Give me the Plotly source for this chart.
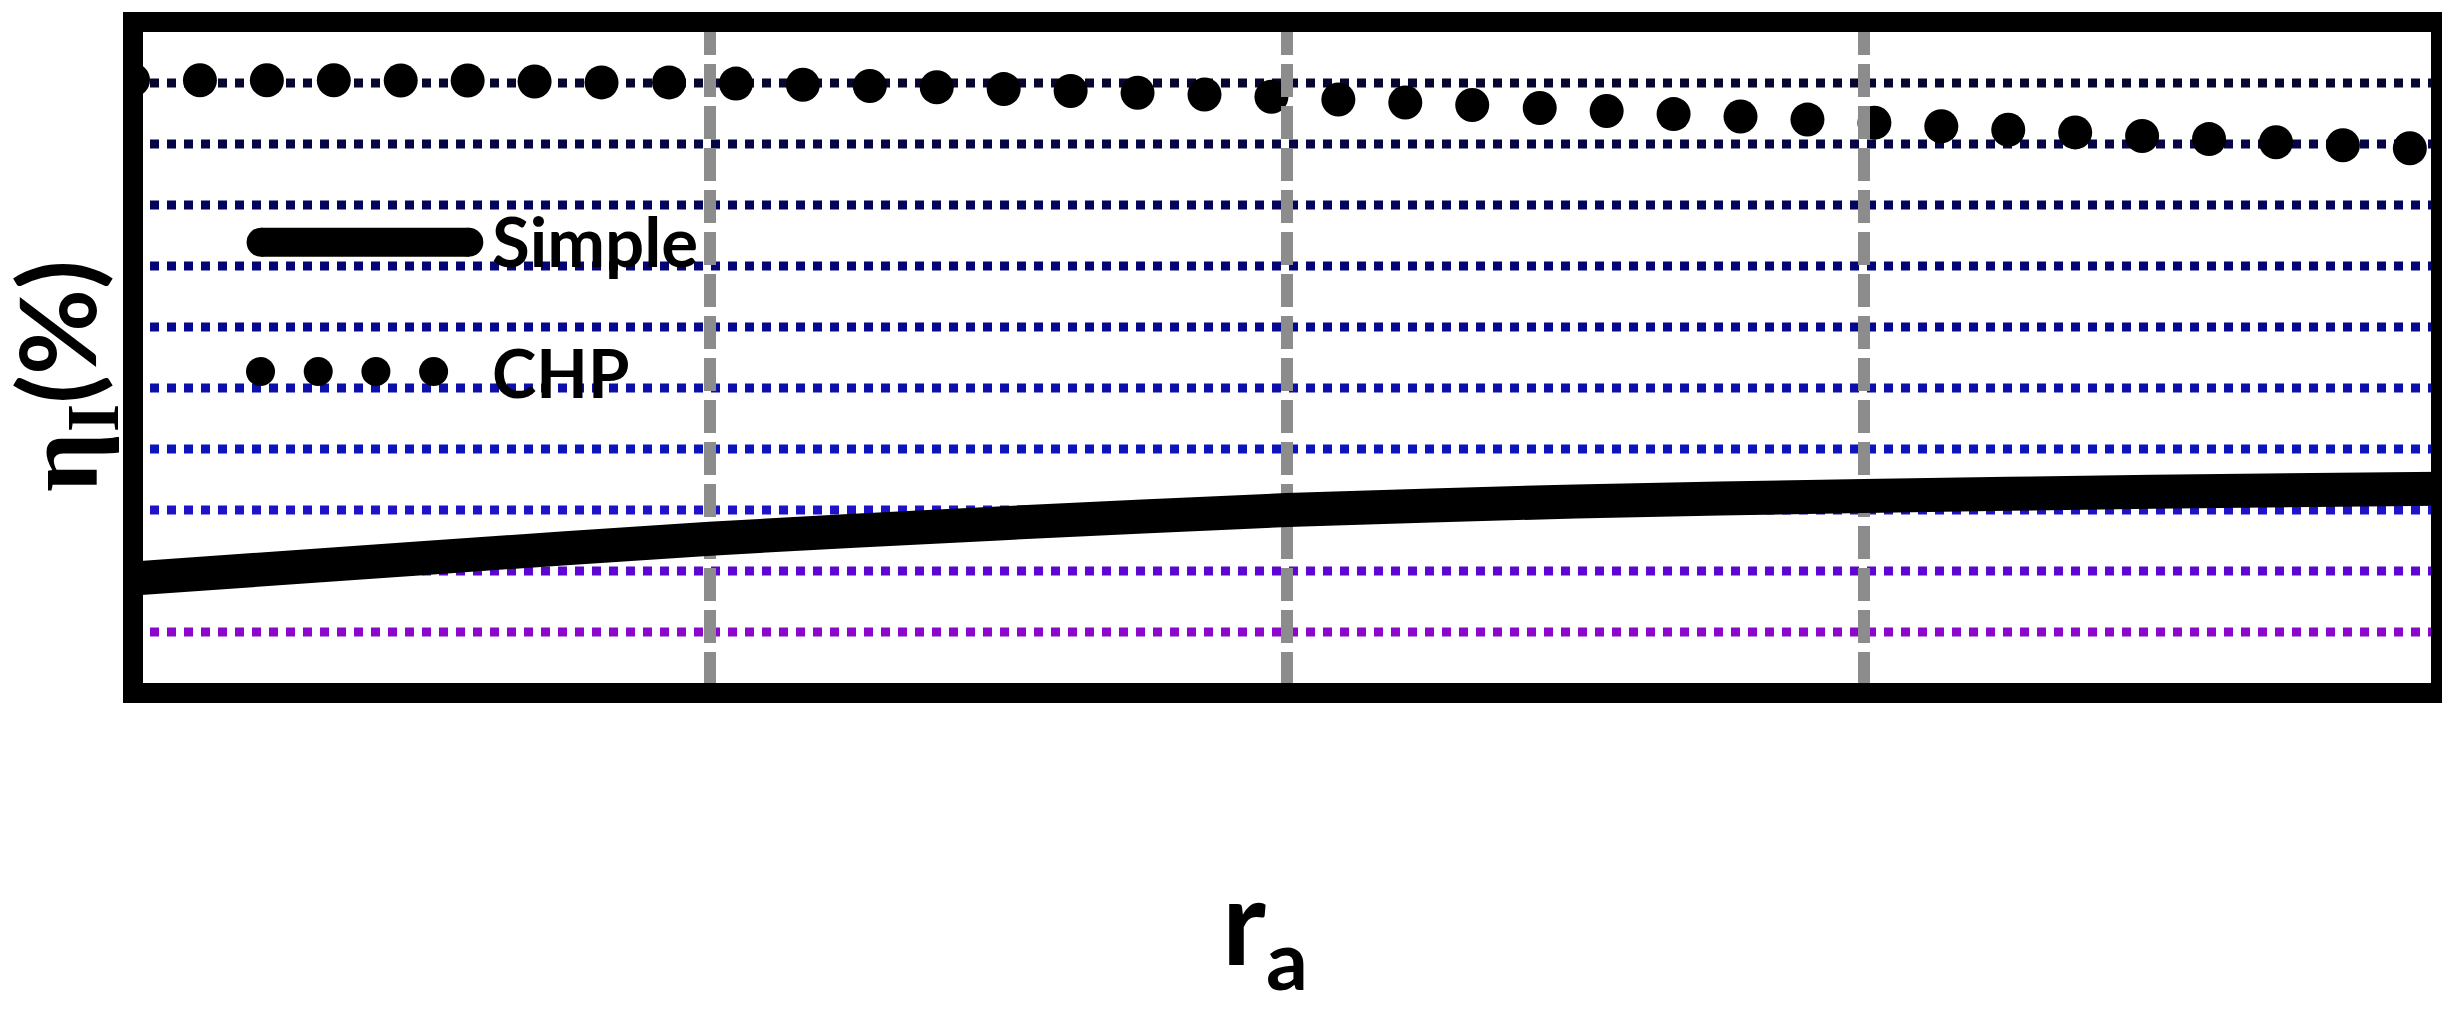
import plotly.graph_objects as go

# ---- data ----
chp_x = [0.000, 0.116, 0.232, 0.348, 0.464, 0.580, 0.696, 0.812, 0.929, 1.045,
         1.161, 1.277, 1.393, 1.509, 1.625, 1.741, 1.857, 1.973, 2.089, 2.205,
         2.321, 2.438, 2.554, 2.670, 2.786, 2.902, 3.018, 3.134, 3.250, 3.366,
         3.482, 3.598, 3.714, 3.830, 3.946]
chp_y = [10.05, 10.045, 10.045, 10.045, 10.04, 10.04, 10.025, 10.01, 10.01, 9.99,
         9.97, 9.95, 9.93, 9.90, 9.87, 9.84, 9.81, 9.775, 9.73, 9.68,
         9.64, 9.59, 9.54, 9.49, 9.45, 9.40, 9.35, 9.29, 9.235, 9.19,
         9.13, 9.08, 9.03, 8.98, 8.93]
simple_x = [0.0, 0.5, 1.0, 1.5, 2.0, 2.5, 3.0, 3.5, 4.0]
simple_y = [1.875, 2.21, 2.53, 2.78, 3.00, 3.14, 3.23, 3.30, 3.35]

x_range = [0, 4]
y_range = [0, 11]
vline_x = [1, 2, 3]
hline_y = [10, 9, 8, 7, 6, 5, 4, 3, 2, 1]
hline_colors = ["#06062e", "#050548", "#04045e", "#040478", "#060890",
                "#0a10a8", "#0c14bc", "#2012c8", "#5c06d0", "#8a08cc"]

legend_simple_x = [0.222, 0.582]
legend_simple_y = [7.39, 7.39]
legend_chp_x = [0.221, 0.321, 0.421, 0.521]
legend_chp_y = [5.27, 5.27, 5.27, 5.27]
labels = ["Simple", "CHP"]

# page body has an 8px margin: figure is drawn at (8, 8)
OFF = 8
W, H = 2450 - OFF, 1015 - OFF

fig = go.Figure()

# dotted horizontal reference lines (below traces)
shapes = []
for yv, col in zip(hline_y, hline_colors):
    shapes.append(dict(type="line", xref="x", yref="y", x0=x_range[0], x1=x_range[1],
                       y0=yv, y1=yv, layer="below",
                       line=dict(color=col, width=9, dash="9px,8px")))

# CHP markers
fig.add_trace(go.Scatter(x=chp_x, y=chp_y, mode="markers",
                         marker=dict(size=34, color="black"), hoverinfo="skip"))

# vertical grey dashed lines
for xv in vline_x:
    fig.add_trace(go.Scatter(x=[xv, xv], y=[y_range[1], y_range[0]], mode="lines",
                             line=dict(color="#8c8c8c", width=12, dash="33px,9px"),
                             hoverinfo="skip"))

# Simple line
fig.add_trace(go.Scatter(x=simple_x, y=simple_y, mode="lines",
                         line=dict(color="black", width=34, shape="spline", smoothing=0.6),
                         hoverinfo="skip"))

# manual legend
fig.add_trace(go.Scatter(x=legend_simple_x, y=legend_simple_y, mode="lines+markers",
                         line=dict(color="black", width=29),
                         marker=dict(size=29, color="black"), hoverinfo="skip"))
fig.add_trace(go.Scatter(x=legend_chp_x, y=legend_chp_y, mode="markers",
                         marker=dict(size=29, color="black"), hoverinfo="skip"))

# frame
shapes.append(dict(type="rect", xref="paper", yref="paper", x0=0, x1=1, y0=0, y1=1,
                   layer="above", line=dict(color="black", width=20)))

annotations = [
    dict(x=0.618, y=7.41, xref="x", yref="y", text=labels[0], showarrow=False,
         xanchor="left", yanchor="middle",
         font=dict(family="Lato", size=69, color="black", weight="bold")),
    dict(x=0.618, y=5.27, xref="x", yref="y", text=labels[1], showarrow=False,
         xanchor="left", yanchor="middle",
         font=dict(family="Lato", size=67, color="black", weight="bold")),
    dict(x=(1265 - 133) / 2308, y=(693 - 928) / 671, xref="paper", yref="paper",
         text="r<sub>a</sub>", showarrow=False, xanchor="center", yanchor="middle",
         font=dict(family="Lato", size=118, color="black", weight="bold")),
    dict(x=0, xshift=-70, y=(693 - 376) / 671, xref="paper", yref="paper",
         text="η<sub>I</sub><span style=\"font-family:Lato\">(%)</span>",
         textangle=-90, showarrow=False, xanchor="center", yanchor="middle",
         font=dict(family="Liberation Serif", size=105, color="black", weight="bold")),
]

fig.update_layout(
    width=W, height=H,
    margin=dict(l=133 - OFF, r=9, t=22 - OFF, b=322),
    paper_bgcolor="white", plot_bgcolor="white",
    showlegend=False,
    shapes=shapes, annotations=annotations,
    xaxis=dict(range=x_range, showgrid=False, zeroline=False, showticklabels=False,
               ticks="", showline=False),
    yaxis=dict(range=y_range, showgrid=False, zeroline=False, showticklabels=False,
               ticks="", showline=False),
)

fig.write_html("out.html")
